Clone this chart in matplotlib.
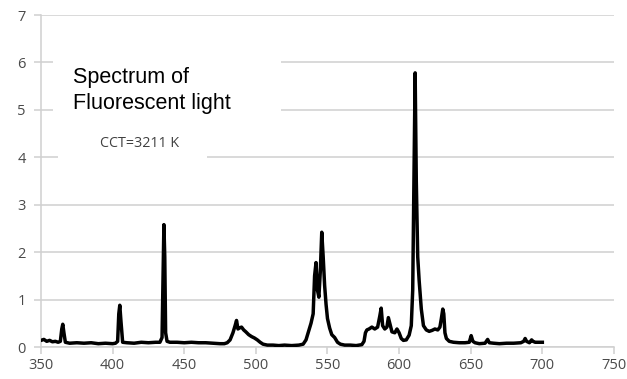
import matplotlib
matplotlib.use("Agg")
import matplotlib.pyplot as plt
import matplotlib.patches as patches

# wavelength (nm) and relative intensity
wavelength = [
    350, 352, 354, 356, 358, 360, 362, 363.5, 364.5, 365.2, 366, 367,
    370, 375, 380, 385, 390, 395, 400, 402, 403.5, 404.3, 405, 405.8, 407,
    410, 415, 420, 425, 430, 433, 434.5, 435.3, 435.8, 436.4, 437, 438,
    440, 445, 450, 455, 460, 465, 470, 475, 478, 480, 482, 484, 485.5,
    486.5, 487.5, 488.5, 490, 491.5, 493, 495, 497, 499, 501, 503, 505,
    508, 512, 516, 520, 525, 530, 533, 535, 537, 538.5, 540, 541, 542,
    543, 544, 545, 546, 547, 548, 549, 550, 551.5, 553, 555, 557, 559,
    562, 566, 570, 574, 575.5, 576.5, 577.5, 579, 581, 583, 585, 586.5,
    587.5, 588.5, 590, 591.5, 592.5, 593.5, 595, 597, 598.5, 600, 601.5,
    603, 605, 607, 608.5, 609.5, 610.5, 611.2, 612, 613, 614, 615.5, 617,
    619, 621, 623, 625, 627, 628.5, 629.5, 630.5, 631.2, 632, 633, 635,
    638, 642, 646, 649, 650.3, 651.5, 653, 656, 660, 661.8, 663, 666,
    670, 675, 680, 685, 687, 688, 689, 691, 692.5, 693.5, 695, 697, 700,
]
intensity = [
    0.14, 0.16, 0.12, 0.14, 0.11, 0.12, 0.10, 0.12, 0.38, 0.48, 0.30, 0.10,
    0.08, 0.09, 0.08, 0.09, 0.07, 0.08, 0.07, 0.08, 0.12, 0.70, 0.88, 0.55, 0.10,
    0.09, 0.08, 0.10, 0.09, 0.10, 0.10, 0.20, 1.60, 2.58, 1.90, 0.30, 0.12,
    0.10, 0.10, 0.09, 0.10, 0.09, 0.09, 0.08, 0.07, 0.07, 0.09, 0.15, 0.30, 0.45,
    0.56, 0.38, 0.40, 0.42, 0.36, 0.32, 0.26, 0.22, 0.19, 0.15, 0.10, 0.06,
    0.04, 0.04, 0.03, 0.04, 0.03, 0.04, 0.06, 0.15, 0.35, 0.50, 0.70, 1.50, 1.78,
    1.20, 1.05, 1.60, 2.42, 1.90, 1.30, 0.90, 0.60, 0.40, 0.26, 0.20, 0.10, 0.06,
    0.04, 0.04, 0.03, 0.05, 0.12, 0.30, 0.36, 0.38, 0.42, 0.38, 0.42, 0.65,
    0.82, 0.45, 0.38, 0.42, 0.62, 0.50, 0.32, 0.30, 0.38, 0.30, 0.18,
    0.14, 0.15, 0.25, 0.45, 1.20, 4.00, 5.78, 3.50, 1.90, 1.40, 0.80, 0.45,
    0.36, 0.33, 0.35, 0.38, 0.36, 0.42, 0.60, 0.80, 0.70, 0.30, 0.18, 0.12,
    0.10, 0.09, 0.09, 0.10, 0.24, 0.12, 0.09, 0.07, 0.08, 0.16, 0.09, 0.08,
    0.07, 0.08, 0.08, 0.09, 0.12, 0.18, 0.12, 0.09, 0.15, 0.12, 0.10, 0.10, 0.10,
]
assert len(wavelength) == len(intensity)

x_ticks = [350, 400, 450, 500, 550, 600, 650, 700, 750]
y_ticks = [0, 1, 2, 3, 4, 5, 6, 7]

fig = plt.figure(figsize=(6.27, 3.79), dpi=100)
ax = fig.add_axes([0.0654, 0.0844, 0.9138, 0.876])

grid_col = "#d0d0d0"
ax.set_xlim(350, 750)
ax.set_ylim(0, 7)
ax.set_xticks(x_ticks)
ax.set_yticks(y_ticks)
ax.yaxis.grid(True, color=grid_col, linewidth=1.1)
ax.set_axisbelow(True)

for side in ["top", "right"]:
    ax.spines[side].set_visible(False)
for side in ["left", "bottom"]:
    ax.spines[side].set_color(grid_col)
    ax.spines[side].set_linewidth(1.1)
ax.tick_params(axis="both", color=grid_col, length=5, width=1.1,
               labelcolor="#4a4a4a", labelsize=10.5)
for lbl in ax.get_xticklabels() + ax.get_yticklabels():
    lbl.set_fontfamily("Open Sans")
ax.tick_params(axis="x", pad=3)
ax.tick_params(axis="y", pad=6)

ax.plot(wavelength, intensity, color="black", linewidth=2.5,
        solid_joinstyle="round", zorder=3)

# white boxes behind the annotation texts (hide gridlines like the original)
ax.add_patch(patches.Rectangle((358.4, 4.6), 159.1, 1.7, facecolor="white",
                               edgecolor="none", zorder=2))
ax.add_patch(patches.Rectangle((361.9, 3.75), 104.0, 0.65, facecolor="white",
                               edgecolor="none", zorder=2))

ax.text(372.5, 5.9, "Spectrum of\nFluorescent light", fontsize=15.5,
        family="Liberation Sans", color="black", va="top", ha="left",
        linespacing=1.3, zorder=4)
ax.text(391.5, 4.3, "CCT=3211 K", fontsize=10.3, family="Open Sans",
        color="#404040", va="center", ha="left", zorder=4)

fig.savefig("out.png", dpi=100)
